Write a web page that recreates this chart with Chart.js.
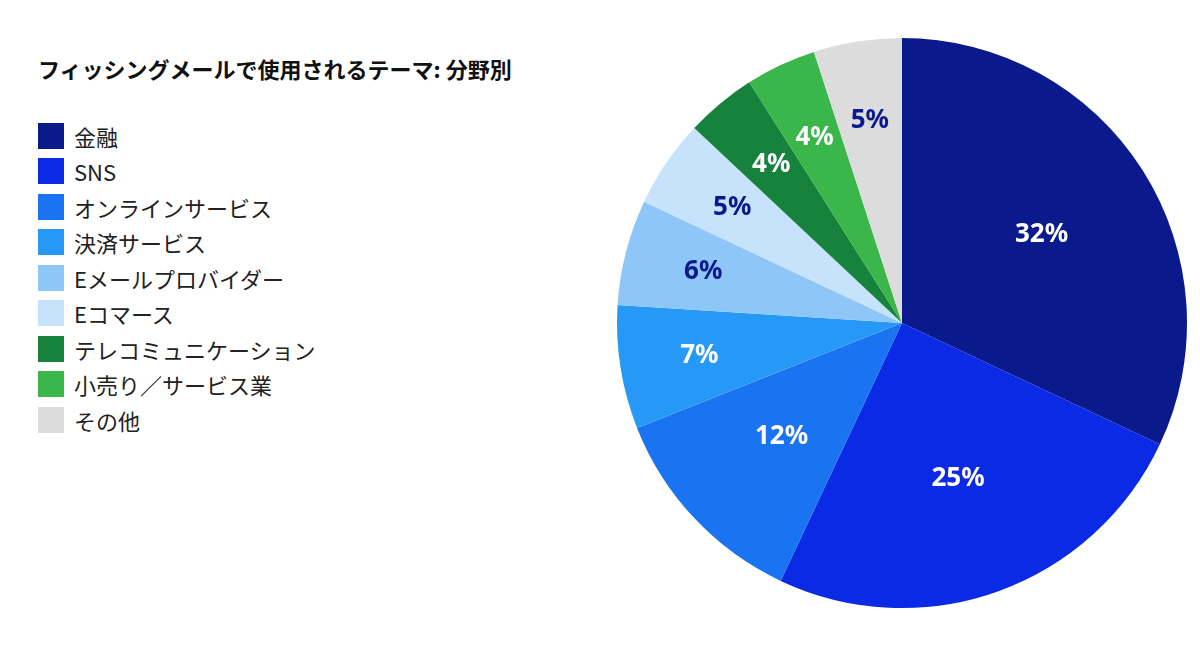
<!DOCTYPE html>
<html><head><meta charset="utf-8">
<script src="https://cdn.jsdelivr.net/npm/chart.js@4"></script>
<style>
body{margin:0;width:1200px;height:650px;background:#fff;font-family:"Noto Sans CJK JP","Noto Sans",sans-serif;position:relative;overflow:hidden}
#title{position:absolute;left:38px;top:52px;font-size:22px;font-weight:bold;color:#111}
#legend{position:absolute;left:38px;top:118px}
.row{display:flex;align-items:center;height:35.5px;font-size:22px;color:#222}
.sw{width:26px;height:26px;margin-right:10px}
canvas{position:absolute;left:0;top:0}
</style></head><body>
<div id="title">フィッシングメールで使用されるテーマ: 分野別</div>
<div id="legend"></div>
<canvas id="c" width="1200" height="650"></canvas>
<script>
/* chart data */
var categories = ["金融","SNS","オンラインサービス","決済サービス","Eメールプロバイダー","Eコマース","テレコミュニケーション","小売り／サービス業","その他"];
var shares = [32,25,12,7,6,5,4,4,5];
var colors = ["#0a1a8c","#0a2ae6","#1a74f2","#2699f7","#8ec6f7","#c7e2fb","#16823b","#3bb64b","#dcdcdc"];
var labelColors = ["#fff","#fff","#fff","#fff","#0a1a8c","#0a1a8c","#fff","#fff","#0a1a8c"];

var legend = document.getElementById("legend");
for (var i = 0; i < categories.length; i++) {
	var row = document.createElement("div");
	row.className = "row";
	row.innerHTML = '<div class="sw" style="background:' + colors[i] + '"></div>' + categories[i];
	legend.appendChild(row);
}

var sliceLabels = {
	id: "sliceLabels",
	afterDatasetsDraw: function (chart) {
		var ctx = chart.ctx;
		var arcs = chart.getDatasetMeta(0).data;
		ctx.save();
		ctx.font = "bold 26px 'Noto Sans', sans-serif";
		ctx.textAlign = "center";
		ctx.textBaseline = "middle";
		for (var i = 0; i < arcs.length; i++) {
			var a = arcs[i];
			var mid = (a.startAngle + a.endAngle) / 2;
			var r = a.outerRadius * (shares[i] > 10 ? 0.58 : 0.72);
			ctx.fillStyle = labelColors[i];
			ctx.fillText(shares[i] + "%", a.x + Math.cos(mid) * r, a.y + Math.sin(mid) * r);
		}
		ctx.restore();
	}
};

new Chart(document.getElementById("c"), {
	type: "pie",
	data: {
		labels: categories,
		datasets: [{ data: shares, backgroundColor: colors, borderWidth: 0 }]
	},
	options: {
		responsive: false,
		animation: false,
		layout: { padding: { left: 617, right: 13, top: 38, bottom: 42 } },
		plugins: { legend: { display: false }, tooltip: { enabled: false } }
	},
	plugins: [sliceLabels]
});
</script>
</body></html>
